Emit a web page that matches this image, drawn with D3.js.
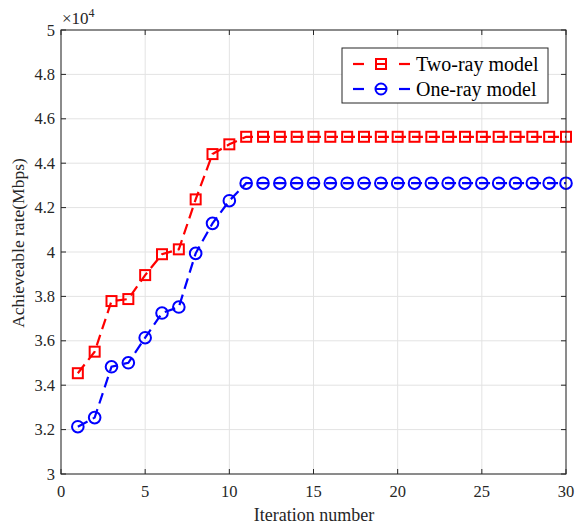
<!DOCTYPE html>
<html><head><meta charset="utf-8">
<script src="https://cdn.jsdelivr.net/npm/d3@7"></script>
<style>body{margin:0;background:#fff}svg{display:block}text{font-family:"Liberation Serif","Times New Roman",serif}</style>
</head><body>
<svg id="c" width="576" height="526"></svg>
<script>
const iterations = d3.range(1, 31);
const twoRay = [3.454,3.551,3.779,3.788,3.896,3.99,4.012,4.237,4.441,4.485,
  4.519,4.519,4.519,4.519,4.519,4.519,4.519,4.519,4.519,4.519,
  4.519,4.519,4.519,4.519,4.519,4.519,4.519,4.519,4.519,4.519];
const oneRay = [3.213,3.254,3.483,3.501,3.614,3.725,3.752,3.994,4.129,4.231,
  4.310,4.310,4.310,4.310,4.310,4.310,4.310,4.310,4.310,4.310,
  4.310,4.310,4.310,4.310,4.310,4.310,4.310,4.310,4.310,4.310];
const xTicks = [0,5,10,15,20,25,30];
const yTicks = [3,3.2,3.4,3.6,3.8,4,4.2,4.4,4.6,4.8,5];
const seriesNames = ["Two-ray model","One-ray model"];

const svg = d3.select("#c");
const L=61, R=566, T=30, B=474;
const x = d3.scaleLinear().domain([0,30]).range([L,R]);
const y = d3.scaleLinear().domain([3,5]).range([B,T]);

// grid
svg.append("g").selectAll("line").data(xTicks).join("line")
  .attr("x1",d=>x(d)).attr("x2",d=>x(d)).attr("y1",T).attr("y2",B)
  .attr("stroke","#e3e3e3").attr("stroke-width",1);
svg.append("g").selectAll("line").data(yTicks).join("line")
  .attr("x1",L).attr("x2",R).attr("y1",d=>y(d)).attr("y2",d=>y(d))
  .attr("stroke","#e3e3e3").attr("stroke-width",1);

// data
const series = [
  {name:seriesNames[0], vals:twoRay, color:"#ff0000", marker:"square"},
  {name:seriesNames[1], vals:oneRay, color:"#0000ff", marker:"circle"}
];
const line = d3.line().x((d,i)=>x(iterations[i])).y(d=>y(d));
series.forEach(s=>{
  svg.append("path").datum(s.vals).attr("d",line)
    .attr("fill","none").attr("stroke",s.color).attr("stroke-width",2.2)
    .attr("stroke-dasharray","11,6");
  const g = svg.append("g");
  if(s.marker==="square"){
    g.selectAll("rect").data(s.vals).join("rect")
      .attr("x",(d,i)=>x(iterations[i])-5).attr("y",d=>y(d)-5)
      .attr("width",10).attr("height",10)
      .attr("fill","none").attr("stroke",s.color).attr("stroke-width",2);
  } else {
    g.selectAll("circle").data(s.vals).join("circle")
      .attr("cx",(d,i)=>x(iterations[i])).attr("cy",d=>y(d)).attr("r",5.8)
      .attr("fill","none").attr("stroke",s.color).attr("stroke-width",2);
  }
});

// axes box
const ax = svg.append("g");
ax.append("rect").attr("x",L).attr("y",T).attr("width",R-L).attr("height",B-T)
  .attr("fill","none").attr("stroke","#262626").attr("stroke-width",1);
// ticks
xTicks.forEach(t=>{
  ax.append("line").attr("x1",x(t)).attr("x2",x(t)).attr("y1",B).attr("y2",B-5).attr("stroke","#262626");
  ax.append("line").attr("x1",x(t)).attr("x2",x(t)).attr("y1",T).attr("y2",T+5).attr("stroke","#262626");
  ax.append("text").attr("x",x(t)).attr("y",B+23).attr("text-anchor","middle")
    .attr("font-size",16.5).attr("fill","#262626").text(t);
});
yTicks.forEach(t=>{
  ax.append("line").attr("x1",L).attr("x2",L+5).attr("y1",y(t)).attr("y2",y(t)).attr("stroke","#262626");
  ax.append("line").attr("x1",R).attr("x2",R-5).attr("y1",y(t)).attr("y2",y(t)).attr("stroke","#262626");
  ax.append("text").attr("x",L-6).attr("y",y(t)+5.5).attr("text-anchor","end")
    .attr("font-size",16.5).attr("fill","#262626").text(d3.format("")(t));
});
// exponent
const ex = ax.append("text").attr("x",L+1).attr("y",T-6).attr("font-size",17).attr("fill","#262626");
ex.append("tspan").text("\u00d710");
ex.append("tspan").attr("dy",-7).attr("font-size",12).text("4");

// labels
ax.append("text").attr("x",314).attr("y",B+47).attr("text-anchor","middle")
  .attr("font-size",18).attr("fill","#262626").text("Iteration number");
ax.append("text").attr("transform",`translate(24,243) rotate(-90)`)
  .attr("text-anchor","middle").attr("font-size",17.5).attr("fill","#262626").text("Achieveable rate(Mbps)");

// legend
const lg = svg.append("g");
lg.append("rect").attr("x",342).attr("y",48).attr("width",206).attr("height",55)
  .attr("fill","#fff").attr("stroke","#262626").attr("stroke-width",1);
series.forEach((s,i)=>{
  const cy = 64 + i*25;
  lg.append("line").attr("x1",353).attr("x2",364).attr("y1",cy).attr("y2",cy).attr("stroke",s.color).attr("stroke-width",2.2);
  lg.append("line").attr("x1",399).attr("x2",410).attr("y1",cy).attr("y2",cy).attr("stroke",s.color).attr("stroke-width",2.2);
  lg.append("line").attr("x1",376).attr("x2",386).attr("y1",cy).attr("y2",cy).attr("stroke",s.color).attr("stroke-width",2);
  if(s.marker==="square"){
    lg.append("rect").attr("x",376).attr("y",cy-5).attr("width",10).attr("height",10)
      .attr("fill","none").attr("stroke",s.color).attr("stroke-width",2);
  } else {
    lg.append("circle").attr("cx",381).attr("cy",cy).attr("r",5.5)
      .attr("fill","none").attr("stroke",s.color).attr("stroke-width",2);
  }
  lg.append("text").attr("x",416).attr("y",cy+7).attr("font-size",20).attr("fill","#000").text(s.name);
});
</script>
</body></html>
